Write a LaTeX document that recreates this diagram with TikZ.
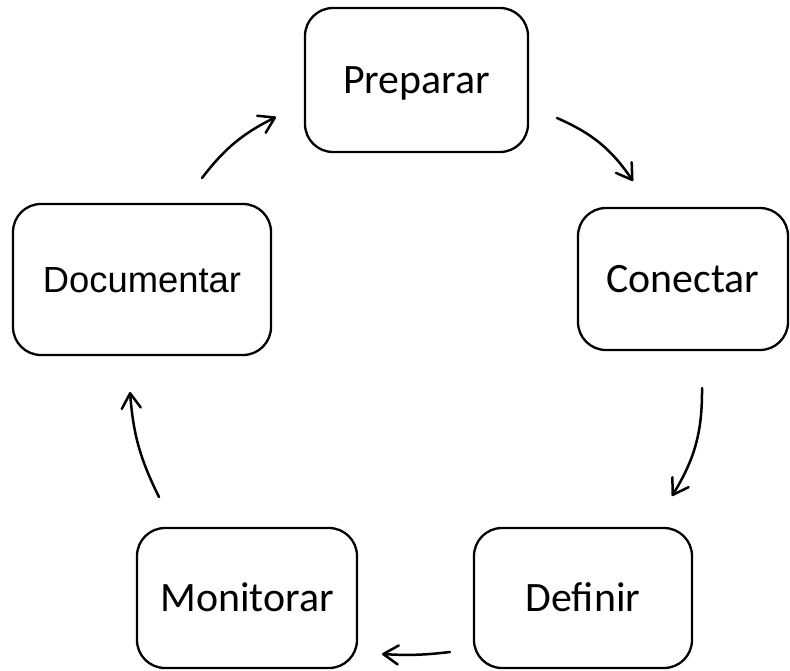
\documentclass[tikz,border=0pt]{standalone}
\usepackage{fontspec}
\setmainfont{Carlito}
\newfontfamily\arialfont{Liberation Sans}
\usetikzlibrary{arrows.meta}

\begin{document}
\begin{tikzpicture}[x=1bp,y=-1bp,
  stage/.style={draw, line width=2.3bp, rounded corners=28bp, align=center,
    text height=27bp, text depth=0bp, inner sep=0pt,
    font=\fontsize{42}{50}\selectfont},
  flow/.style={-{Straight Barb[length=15bp,width=19bp,round]},
    line width=2.5bp, line cap=round}]
\useasboundingbox (0,0) rectangle (790,671);

% the five stages of the cycle
\node[stage, minimum width=223bp, minimum height=144bp] (prep) at (416.5,80) {Preparar};
\node[stage, minimum width=210bp, minimum height=142bp] (conn) at (683,279) {Conectar};
\node[stage, minimum width=218bp, minimum height=140bp] (defi) at (583,598) {Definir};
\node[stage, minimum width=220bp, minimum height=140bp] (moni) at (247,598) {Monitorar};
\node[stage, minimum width=258bp, minimum height=151bp, text height=26bp,
      font=\arialfont\fontsize{36.5}{44}\selectfont] (docu) at (142,279.5) {Documentar};

% end points of the curved arrows between the stages
\coordinate (pcS) at (557,118);  \coordinate (pcE) at (633,181);
\coordinate (cdS) at (702,388);  \coordinate (cdE) at (672,496);
\coordinate (dmS) at (450,652);  \coordinate (dmE) at (382,654);
\coordinate (mkS) at (159,497);  \coordinate (mkE) at (130,392);
\coordinate (kpS) at (202,178);  \coordinate (kpE) at (276,117);

\draw[flow] (pcS) to[bend left=16] (pcE);
\draw[flow] (cdS) to[bend left=16] (cdE);
\draw[flow] (dmS) to[bend left=5]  (dmE);
\draw[flow] (mkS) to[bend left=11] (mkE);
\draw[flow] (kpS) to[bend left=13] (kpE);
\end{tikzpicture}
\end{document}
